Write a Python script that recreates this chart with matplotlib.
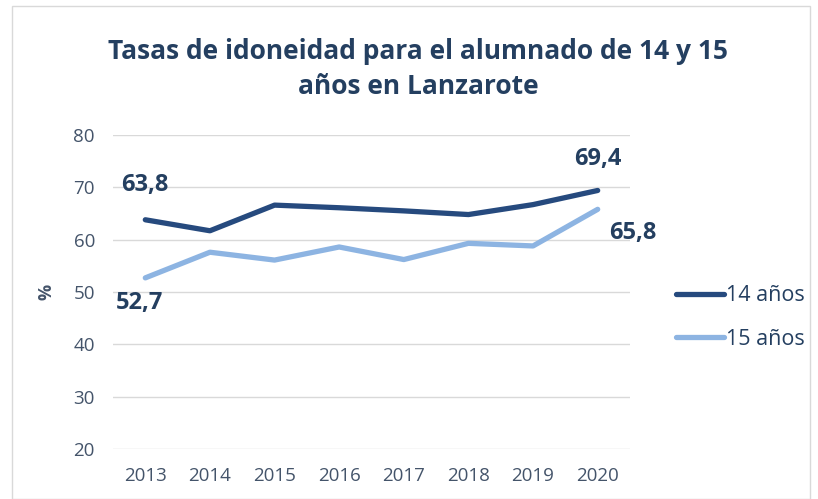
import matplotlib.pyplot as plt
from matplotlib.patches import Rectangle

years = ['2013', '2014', '2015', '2016', '2017', '2018', '2019', '2020']
tasa_14 = [63.8, 61.7, 66.6, 66.1, 65.5, 64.8, 66.7, 69.4]
tasa_15 = [52.7, 57.6, 56.1, 58.6, 56.2, 59.3, 58.8, 65.8]
series_names = ['14 años', '15 años']

dark = '#264A7E'
light = '#8DB4E2'
text_col = '#44546A'
title_col = '#243F60'

plt.rcParams['font.family'] = ['Open Sans', 'DejaVu Sans']

fig = plt.figure(figsize=(8.18, 4.99), dpi=100)
ax = fig.add_axes([113/818, 1 - 449/499, (630-113)/818, (449-135)/499])

x = range(len(years))
ax.plot(x, tasa_14, color=dark, lw=3.8, solid_capstyle='round', label=series_names[0])
ax.plot(x, tasa_15, color=light, lw=3.8, solid_capstyle='round', label=series_names[1])

ax.set_xlim(-0.5, len(years) - 0.5)
ax.set_ylim(20, 80)
ax.set_yticks(range(20, 81, 10))
ax.set_xticks(list(x))
ax.set_xticklabels(years)
ax.grid(True, axis='y', color='#D9D9D9', lw=1)
ax.set_axisbelow(True)
for s in ax.spines.values():
	s.set_visible(False)
ax.tick_params(length=0, labelsize=13.5, labelcolor=text_col)
ax.tick_params(axis='y', pad=13)
ax.tick_params(axis='x', pad=13)
ax.set_ylabel('%', fontsize=13, color=text_col, fontweight='bold')
ax.yaxis.set_label_coords(-58/517, 0.5)

# data labels on first and last points
lab = dict(fontsize=17, fontweight='bold', color=title_col)
ax.annotate('63,8', (0, tasa_14[0]), xytext=(0, 25), textcoords='offset points', ha='center', va='center', **lab)
ax.annotate('52,7', (0, tasa_15[0]), xytext=(-4, -18), textcoords='offset points', ha='center', va='center', **lab)
ax.annotate('69,4', (7, tasa_14[-1]), xytext=(0, 23), textcoords='offset points', ha='center', va='center', **lab)
ax.annotate('65,8', (7, tasa_15[-1]), xytext=(25, -17), textcoords='offset points', ha='center', va='center', **lab)

fig.legend(loc='upper left', bbox_to_anchor=(657/818, 1 - 266/499), frameon=False,
	fontsize=15.5, labelcolor=title_col, handlelength=2.2, handletextpad=0.1, labelspacing=1.05)

fig.text(418/818, 1 - 69/499, 'Tasas de idoneidad para el alumnado de 14 y 15\naños en Lanzarote',
	ha='center', va='center', fontsize=19, fontweight='bold', color=title_col, linespacing=1.35)

fig.patches.append(Rectangle((12/818, 0), 1 - 20/818, 1 - 6/499, transform=fig.transFigure,
	fill=False, edgecolor='#D9D9D9', lw=1))

fig.savefig('out.png', dpi=100)
